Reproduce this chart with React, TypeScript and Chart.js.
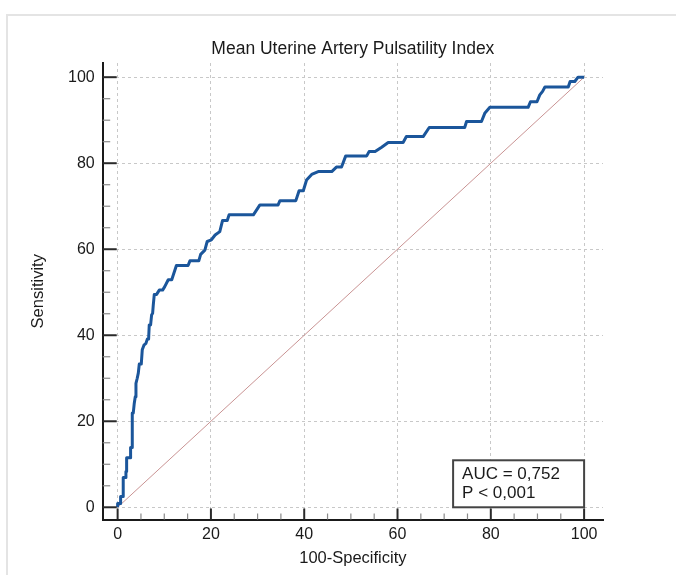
import React, { useEffect, useRef } from "react";
import { Chart, registerables } from "chart.js";

Chart.register(...registerables);

// ROC curve (100-Specificity, Sensitivity)
const specComplement = [
  0, 0, 0.64, 0.64, 1.2, 1.2, 1.78, 1.78, 1.93, 1.93, 2.78, 2.78, 3.14, 3.14, 3.35, 3.57, 3.78, 3.93, 4.2, 4.43,
  4.64, 5.07, 5.28, 5.64, 6.07, 6.36, 6.64, 6.78, 7.07, 7.28, 7.5, 7.64, 7.86, 8.35, 8.93, 9.64, 10.1, 10.85, 11.6,
  12.6, 15.1, 15.5, 17.4, 17.8, 18.7, 19.2, 20.1, 20.9, 21.9, 22.5, 23.5, 23.9, 29.1, 30.5, 34.4, 34.8, 38.2, 38.9,
  39.8, 40.5, 41.6, 43, 45.9, 46.9, 48, 48.9, 53.4, 53.9, 55.2, 56.6, 58, 61.2, 61.9, 65.5, 66.8, 74.4, 74.8, 78,
  78.7, 79.8, 88, 88.5, 89.9, 90.5, 91.1, 91.6, 96.6, 97, 98, 98.7, 100,
];
const sensitivity = [
  0, 0.9, 0.9, 2.5, 2.5, 6.9, 6.9, 8.3, 8.3, 11.5, 11.5, 13.9, 13.9, 21.9, 21.9, 24.2, 25.7, 28.8, 30, 31.2,
  33.3, 33.3, 36.6, 37.7, 38.1, 39.1, 39.1, 42.4, 42.4, 44.7, 45.1, 47, 49.5, 49.5, 50.5, 50.5, 51.3, 52.9, 52.9,
  56.2, 56.2, 57.3, 57.3, 58.8, 59.8, 61.8, 62.2, 63.3, 64.1, 66.7, 66.7, 68, 68, 70.3, 70.3, 71.3, 71.3, 73.6,
  73.6, 76.1, 77.4, 78.05, 78.05, 79.1, 79.1, 81.7, 81.7, 82.7, 82.7, 83.7, 84.8, 84.8, 86.2, 86.2, 88.3, 88.3, 89.7, 89.7,
  91.6, 93, 93, 94.3, 94.3, 95.9, 96.7, 97.7, 97.7, 99, 99, 100, 100,
];
const diagonalX = [0, 100];
const diagonalY = [0, 100];

const xTickValues = [0, 20, 40, 60, 80, 100];
const yTickValues = [0, 20, 40, 60, 80, 100];
const minorTickValues = [5, 10, 15, 25, 30, 35, 45, 50, 55, 65, 70, 75, 85, 90, 95];

const chartTitle = "Mean Uterine Artery Pulsatility Index";
const xAxisTitle = "100-Specificity";
const yAxisTitle = "Sensitivity";
const statLines = ["AUC = 0,752", "P < 0,001"];

const FONT = "'Liberation Sans', Arial, sans-serif";
const TEXT = "#1a1a1a";

const inwardTicks = {
  id: "inwardTicks",
  afterDraw(chart: any) {
    const { ctx, chartArea } = chart;
    const xs = chart.scales.x;
    const ys = chart.scales.y;
    ctx.save();
    const drawTick = (v: number, major: boolean) => {
      ctx.strokeStyle = major ? "#2a2a2a" : "#8a8a8a";
      ctx.lineWidth = major ? 2 : 1.2;
      const px = xs.getPixelForValue(v);
      ctx.beginPath();
      ctx.moveTo(px, chartArea.bottom);
      ctx.lineTo(px, chartArea.bottom - (major ? 11 : 6));
      ctx.stroke();
      const py = ys.getPixelForValue(v);
      ctx.beginPath();
      ctx.moveTo(chartArea.left, py);
      ctx.lineTo(chartArea.left + (major ? 14 : 7.5), py);
      ctx.stroke();
    };
    minorTickValues.forEach((v) => drawTick(v, false));
    xTickValues.forEach((v) => drawTick(v, true));

    // statistics box
    const right = xs.getPixelForValue(100);
    const bottom = ys.getPixelForValue(0);
    const w = 131;
    const h = 47;
    ctx.fillStyle = "#fff";
    ctx.fillRect(right - w, bottom - h, w, h);
    ctx.strokeStyle = "#444";
    ctx.lineWidth = 2;
    ctx.strokeRect(right - w, bottom - h, w, h);
    ctx.fillStyle = TEXT;
    ctx.font = `17px ${FONT}`;
    ctx.textBaseline = "middle";
    ctx.textAlign = "left";
    statLines.forEach((t, i) => {
      ctx.fillText(t, right - w + 9, bottom - h + 14 + i * 19);
    });
    ctx.restore();
  },
};

export default function App() {
  const ref = useRef<HTMLCanvasElement | null>(null);

  useEffect(() => {
    if (!ref.current) return;
    const curve = specComplement.map((x, i) => ({ x, y: sensitivity[i] }));
    const diag = diagonalX.map((x, i) => ({ x, y: diagonalY[i] }));
    const chart = new Chart(ref.current, {
      type: "line",
      data: {
        datasets: [
          {
            data: curve,
            borderColor: "#1b569b",
            borderWidth: 3,
            pointRadius: 0,
            tension: 0,
            borderJoinStyle: "round",
            order: 0,
          },
          {
            data: diag,
            borderColor: "#c99393",
            borderWidth: 1,
            pointRadius: 0,
            order: 1,
          },
        ],
      },
      options: {
        animation: false,
        responsive: false,
        devicePixelRatio: 1,
        layout: { padding: { left: 0, right: 73, top: 0, bottom: 0 } },
        plugins: {
          legend: { display: false },
          tooltip: { enabled: false },
          title: {
            display: true,
            text: chartTitle,
            fullSize: false,
            color: TEXT,
            font: { family: FONT, size: 17.5, weight: "normal" },
            padding: { top: 39, bottom: 3 },
          },
        },
        scales: {
          x: {
            type: "linear",
            min: -3.2,
            max: 104.05,
            afterBuildTicks: (s: any) => {
              s.ticks = xTickValues.map((v) => ({ value: v }));
            },
            afterFit: (s: any) => {
              s.height = 55.5;
            },
            ticks: {
              color: TEXT,
              font: { family: FONT, size: 16 },
              padding: 5,
              maxRotation: 0,
              callback: (v: any) => String(v),
            },
            grid: { color: "#c8c8c8", lineWidth: 1, drawTicks: false },
            border: { display: true, color: "#1a1a1a", width: 2, dash: [3, 3] },
            title: {
              display: true,
              text: xAxisTitle,
              color: TEXT,
              font: { family: FONT, size: 16.5 },
              padding: { top: 0, bottom: 7 },
            },
          },
          y: {
            type: "linear",
            min: -2.84,
            max: 103.3,
            afterBuildTicks: (s: any) => {
              s.ticks = yTickValues.map((v) => ({ value: v }));
            },
            afterFit: (s: any) => {
              s.width = 102.7;
            },
            ticks: {
              color: TEXT,
              font: { family: FONT, size: 16 },
              padding: 8,
              callback: (v: any) => String(v),
            },
            grid: { color: "#c8c8c8", lineWidth: 1, drawTicks: false },
            border: { display: true, color: "#1a1a1a", width: 2, dash: [3, 3] },
            title: {
              display: true,
              text: yAxisTitle,
              color: TEXT,
              font: { family: FONT, size: 16.5 },
              padding: { top: 29, bottom: 0 },
            },
          },
        },
      },
      plugins: [inwardTicks],
    } as any);
    return () => chart.destroy();
  }, []);

  return (
    <div
      style={{
        position: "fixed",
        left: 0,
        top: 0,
        width: 676,
        height: 575,
        overflow: "hidden",
        background: "#fff",
      }}
    >
      <div
        style={{
          position: "absolute",
          left: 6,
          top: 14,
          width: 800,
          height: 700,
          borderLeft: "2px solid #e4e4e4",
          borderTop: "2px solid #e4e4e4",
        }}
      />
      <canvas
        ref={ref}
        width={676}
        height={575}
        style={{ position: "absolute", left: 0, top: 0, width: 676, height: 575 }}
      />
    </div>
  );
}
